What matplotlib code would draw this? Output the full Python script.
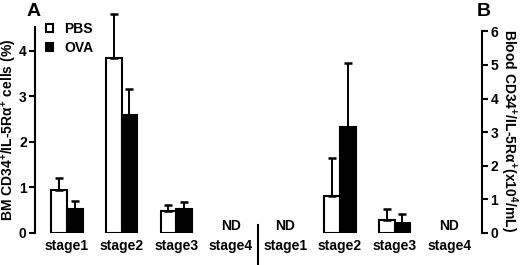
import numpy as np
import matplotlib
matplotlib.use("Agg")
import matplotlib.pyplot as plt
from matplotlib.patches import Patch
import matplotlib.transforms as mtransforms

plt.rcParams['font.family'] = ['Liberation Sans', 'DejaVu Sans']
plt.rcParams['font.weight'] = 'bold'
plt.rcParams['mathtext.fontset'] = 'custom'
plt.rcParams['mathtext.rm'] = 'Liberation Sans:bold'
plt.rcParams['mathtext.it'] = 'Liberation Sans:bold'
plt.rcParams['mathtext.bf'] = 'Liberation Sans:bold'

stages = ["stage1", "stage2", "stage3", "stage4"]
series = ["PBS", "OVA"]

# Panel A: bone marrow (%)
bm_pbs = [0.94, 3.84, 0.48, np.nan]
bm_pbs_err = [0.27, 0.96, 0.13, np.nan]
bm_ova = [0.53, 2.59, 0.53, np.nan]
bm_ova_err = [0.17, 0.56, 0.15, np.nan]

# Panel B: blood (x10^4/mL)
bl_pbs = [np.nan, 1.11, 0.39, np.nan]
bl_pbs_err = [np.nan, 1.12, 0.32, np.nan]
bl_ova = [np.nan, 3.15, 0.29, np.nan]
bl_ova_err = [np.nan, 1.90, 0.28, np.nan]

nd_left = ["stage4"]
nd_right = ["stage1", "stage4"]

fig = plt.figure(figsize=(5.2, 2.65), dpi=100)
ax = fig.add_axes([35/520, 1-233/265, (482-35)/520, (233-27)/265])
ax2 = ax.twinx()

w = 0.285
xl = np.arange(4)
xr = np.arange(4) + 4

ek = dict(elinewidth=1.4, capsize=3, capthick=1.8, ecolor='black')

def draw(a, x, pbs, pbse, ova, ovae):
    pbs = np.array(pbs); ova = np.array(ova)
    pbse = np.array(pbse); ovae = np.array(ovae)
    conts = []
    conts.append(a.bar(x - w/2, pbs, w, color='white', edgecolor='black', linewidth=1.5,
                       yerr=[np.zeros_like(pbse), pbse], error_kw=ek, label=series[0], zorder=3))
    conts.append(a.bar(x + w/2, ova, w, color='black', edgecolor='black', linewidth=1.5,
                       yerr=[np.zeros_like(ovae), ovae], error_kw=ek, label=series[1], zorder=3))
    for c in conts:
        eb = c.errorbar
        if eb is not None:
            for art in eb.lines[1]:
                art.set_clip_on(False)
            for art in eb.lines[2]:
                art.set_clip_on(False)

draw(ax, xl, bm_pbs, bm_pbs_err, bm_ova, bm_ova_err)
draw(ax2, xr, bl_pbs, bl_pbs_err, bl_ova, bl_ova_err)

ax.set_xlim(-(67-35)/54.6, (482-67)/54.6)
ax.set_ylim(0, 4.52)
ax2.set_ylim(0, 6.13)
ax.set_yticks([0, 1, 2, 3, 4])
ax2.set_yticks([0, 1, 2, 3, 4, 5, 6])
ax2.spines['right'].set_bounds(0, 6)

for a in (ax, ax2):
    a.spines['top'].set_visible(False)
    a.spines['bottom'].set_visible(False)
ax.spines['right'].set_visible(False)
ax2.spines['left'].set_visible(False)
ax.spines['left'].set_linewidth(1.5)
ax2.spines['right'].set_linewidth(1.5)

ax.set_xticks(np.arange(8))
ax.set_xticklabels(stages + stages, fontsize=10, fontweight='bold')
ax.tick_params(axis='x', length=0, pad=4)
ax.tick_params(axis='y', length=4, width=1.5, labelsize=10, pad=2)
ax2.tick_params(axis='y', length=4, width=1.5, labelsize=10, pad=2)
for lab in ax.get_yticklabels() + ax2.get_yticklabels():
    lab.set_fontweight('bold')

ax.set_ylabel(r'BM CD34$^{+}$/IL-5R$\alpha^{+}$ cells (%)', fontsize=10, fontweight='bold', labelpad=0)
ax.yaxis.set_label_coords(-24/447, (233-123)/206 - 0.0, transform=None) if False else None
ax2.set_ylabel(r'Blood CD34$^{+}$/IL-5R$\alpha^{+}$(x10$^{4}$/mL)', fontsize=10, fontweight='bold',
               rotation=270, va='bottom', labelpad=0)

# ND labels
trans = mtransforms.blended_transform_factory(ax.transData, ax.transAxes)
for i, s in enumerate(stages):
    if s in nd_left:
        ax.text(i, 0.0, "ND", transform=trans, ha='center', va='bottom', fontsize=10, fontweight='bold')
    if s in nd_right:
        ax.text(i + 4, 0.0, "ND", transform=trans, ha='center', va='bottom', fontsize=10, fontweight='bold')

# divider between panels
ax.plot([3.5, 3.5], [-0.155, 0.04], transform=trans, color='black', lw=1.5, clip_on=False)

# panel letters
fig.text(34/520, 1-12/265, "A", fontsize=14, fontweight='bold', ha='center', va='center')
fig.text(484/520, 1-12/265, "B", fontsize=14, fontweight='bold', ha='center', va='center')

handles = [Patch(facecolor='white', edgecolor='black', linewidth=1.5, label=series[0]),
           Patch(facecolor='black', edgecolor='black', linewidth=1.5, label=series[1])]
ax.legend(handles=handles, loc='upper left', bbox_to_anchor=(0.012, 1.05), frameon=False,
          handlelength=0.5, handleheight=0.5, handletextpad=0.8, labelspacing=0.35,
          prop={'size': 10, 'weight': 'bold'}, borderaxespad=0)

fig.savefig("out.png", dpi=100)
